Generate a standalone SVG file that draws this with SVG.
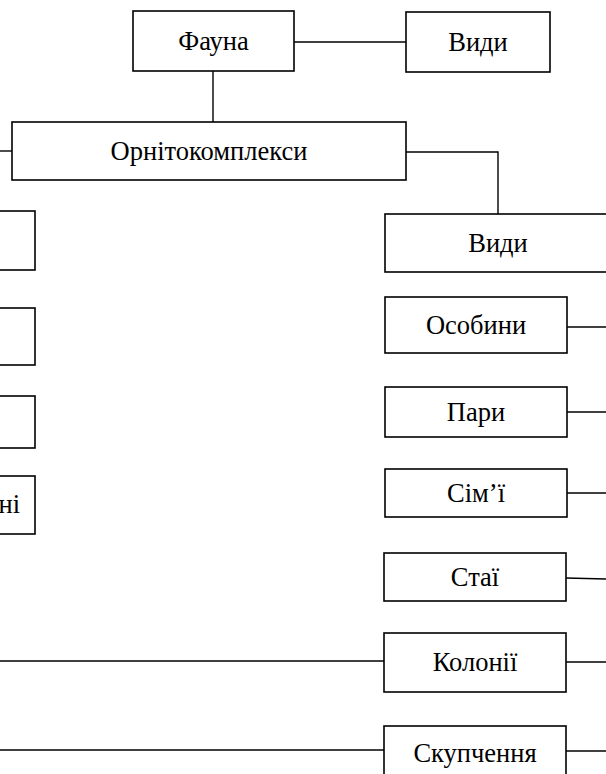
<svg xmlns="http://www.w3.org/2000/svg" width="606" height="774" viewBox="0 0 606 774">
<style>
.box{fill:#fff;stroke:#000;stroke-width:1.6}
.lbl{font-family:"Liberation Serif","Times New Roman",serif;font-size:26.5px;fill:#000;text-anchor:middle}
.con{fill:none;stroke:#000;stroke-width:1.4}
</style>
<rect x="0" y="0" width="606" height="774" fill="#fff"/>
<g id="connectors">
<line class="con" x1="294" y1="42" x2="406" y2="42"/>
<line class="con" x1="213" y1="71" x2="213" y2="122"/>
<line class="con" x1="0" y1="151" x2="12" y2="151"/>
<polyline class="con" points="406,152 498,152 498,214"/>
<line class="con" x1="567" y1="327" x2="606" y2="327"/>
<line class="con" x1="567" y1="412" x2="606" y2="412"/>
<line class="con" x1="567" y1="493" x2="606" y2="493"/>
<line class="con" x1="566" y1="578" x2="606" y2="579"/>
<line class="con" x1="566" y1="662" x2="606" y2="662"/>
<line class="con" x1="566" y1="751" x2="606" y2="751"/>
<line class="con" x1="0" y1="661" x2="384" y2="661"/>
<line class="con" x1="0" y1="750" x2="384" y2="750"/>
</g>
<g id="fauna"><rect class="box" x="133" y="11" width="161" height="60"/><text class="lbl" x="213.5" y="50">Фауна</text></g>
<g id="vydy-top"><rect class="box" x="406" y="12" width="144" height="60"/><text class="lbl" x="478" y="51">Види</text></g>
<g id="ornito"><rect class="box" x="12" y="122" width="394" height="58"/><text class="lbl" x="209" y="160">Орнітокомплекси</text></g>
<g id="vydy2"><rect class="box" x="385" y="214" width="226" height="58"/><text class="lbl" x="498" y="252">Види</text></g>
<g id="osobyny"><rect class="box" x="385" y="297" width="182" height="56"/><text class="lbl" x="476" y="334">Особини</text></g>
<g id="pary"><rect class="box" x="385" y="387" width="182" height="50"/><text class="lbl" x="476" y="421">Пари</text></g>
<g id="simi"><rect class="box" x="385" y="469" width="182" height="48"/><text class="lbl" x="476" y="502">Сім’ї</text></g>
<g id="stai"><rect class="box" x="384" y="553" width="182" height="48"/><text class="lbl" x="475" y="586">Стаї</text></g>
<g id="kolonii"><rect class="box" x="384" y="633" width="182" height="59"/><text class="lbl" x="475" y="671">Колонії</text></g>
<g id="skupchennia"><rect class="box" x="384" y="726" width="182" height="60"/><text class="lbl" x="475" y="762">Скупчення</text></g>
<g id="left1"><rect class="box" x="-147" y="211" width="182" height="59"/></g>
<g id="left2"><rect class="box" x="-147" y="308" width="182" height="57"/></g>
<g id="left3"><rect class="box" x="-147" y="396" width="182" height="52"/></g>
<g id="left4"><rect class="box" x="-147" y="476" width="182" height="58"/><text class="lbl" x="20" y="513" style="text-anchor:end">ні</text></g>
</svg>
